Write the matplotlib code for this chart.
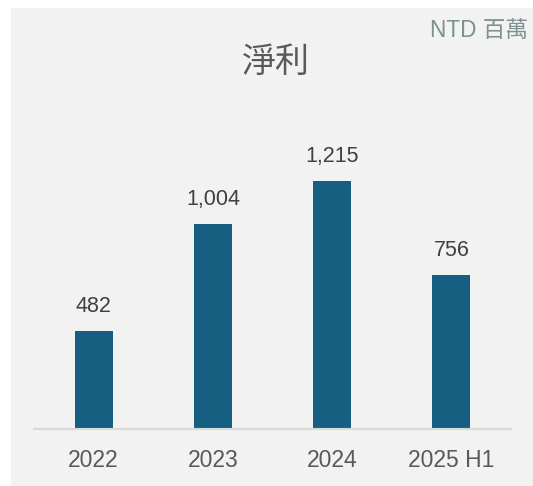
import matplotlib
matplotlib.use("Agg")
import matplotlib.pyplot as plt
from matplotlib.patches import Rectangle

categories = ["2022", "2023", "2024", "2025 H1"]
values = [482, 1004, 1215, 756]
value_labels = ["482", "1,004", "1,215", "756"]
title = "淨利"
unit = "NTD 百萬"

W, H = 533, 486
fig = plt.figure(figsize=(W / 100, H / 100), dpi=100, facecolor="white")

# gray panel
fig.patches.append(Rectangle((11 / W, 0), 1 - 11 / W, 1 - 8 / H, transform=fig.transFigure,
                             facecolor="#f2f2f2", edgecolor="none", zorder=-5))

ax = fig.add_axes([34 / W, (H - 429) / H, 477 / W, 329 / H])
ax.set_zorder(2)
ax.set_facecolor("none")
x = list(range(len(categories)))
ax.bar(x, values, width=0.32, color="#165f80", zorder=2)
ax.set_xlim(-0.5, len(categories) - 0.5)
ax.set_ylim(0, 1612)
for s in ["top", "right", "left"]:
    ax.spines[s].set_visible(False)
ax.spines["bottom"].set_color("#d9d9d9")
ax.spines["bottom"].set_linewidth(1.5)
ax.set_yticks([])
ax.set_xticks(x)
ax.set_xticklabels(categories, fontsize=16.5, color="#595959", family=["Liberation Sans", "DejaVu Sans"])
ax.tick_params(axis="x", length=0, pad=14.2)

for xi, v, lab in zip(x, values, value_labels):
    ax.annotate(lab, (xi, v), xytext=(0, 13.7), textcoords="offset points",
                ha="center", va="baseline", fontsize=15.5, color="#404040",
                family=["Liberation Sans", "DejaVu Sans"])

fig.text(275.5 / W, 1 - 62 / H, title, ha="center", va="center", fontsize=24.5,
         color="#595959", fontweight="medium", family=["Noto Sans CJK TC", "DejaVu Sans"])
fig.text(528 / W, 1 - 37 / H, unit, ha="right", va="baseline", fontsize=16.3,
         color="#7d9191", family=["Liberation Sans", "Noto Sans CJK TC", "DejaVu Sans"])

fig.savefig("out.png", dpi=100, facecolor="white")
